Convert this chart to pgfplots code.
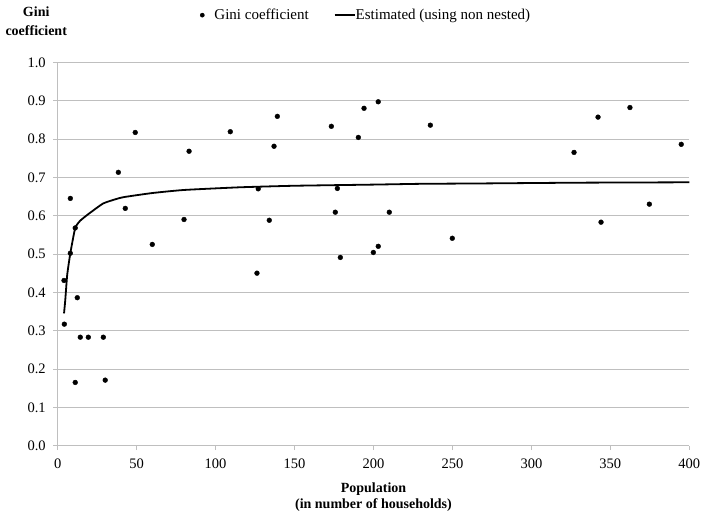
\documentclass[border=0pt]{standalone}
\usepackage{pgfplots}
\pgfplotsset{compat=1.18}
\usepackage{fontspec}
\setmainfont{Liberation Serif}
\definecolor{gridgray}{RGB}{191,191,191}
\begin{document}
\begin{tikzpicture}
\path[use as bounding box] (-57.7pt,-73.3pt) rectangle (643.3pt,445.7pt);
\begin{axis}[
  at={(0pt,0pt)}, anchor=south west,
  scale only axis, width=631.6pt, height=383.4pt,
  xmin=0, xmax=400, ymin=0, ymax=1,
  xtick={0,50,100,150,200,250,300,350,400},
  ytick={0,0.1,0.2,0.3,0.4,0.5,0.6,0.7,0.8,0.9,1.0},
  axis x line*=bottom, axis y line*=left,
  axis line style={color=gridgray, line width=0.9pt},
  ymajorgrids, grid style={color=gridgray, line width=0.9pt},
  tick align=outside, major tick length=4.5pt,
  tick style={color=gridgray, line width=0.9pt},
  /pgf/number format/assume math mode=true,
  yticklabel style={/pgf/number format/fixed, /pgf/number format/fixed zerofill, /pgf/number format/precision=1, xshift=-4pt},
  xticklabel style={yshift=-5pt},
  ticklabel style={font=\fontsize{14.5}{16}\selectfont, text=black},
  xlabel={Population\\(in number of households)},
  xlabel style={align=center, font=\bfseries\fontsize{14}{16.5}\selectfont,
    at={(axis description cs:0.5,0)}, anchor=center, yshift=-51.3pt},
  ylabel={Gini\\coefficient},
  ylabel style={rotate=-90, align=center, font=\bfseries\fontsize{14}{19}\selectfont,
    at={(axis description cs:-0.034,1.1064)}, anchor=center},
  legend columns=2,
  legend style={at={(axis description cs:0.2253,1.123)}, anchor=west,
    draw=none, fill=none, inner sep=0pt, outer sep=0pt,
    font=\fontsize{15}{17}\selectfont,
    nodes={inner xsep=0pt, inner ysep=1pt}},
  clip=false,
]
\addplot[only marks, mark=*, mark size=2.4pt, color=black,
  legend image code/.code={\fill[black] (0pt,0pt) circle (2.1pt); \path (12pt,0pt);}]
  coordinates {
(4.0,0.431) (4.2,0.317) (8.0,0.645) (8.0,0.502) (11.1,0.568) (11.1,0.165)
(12.4,0.386) (14.3,0.283) (19.4,0.283) (28.9,0.283) (30.1,0.171)
(38.4,0.713) (42.8,0.619) (49.1,0.817) (59.9,0.525) (80.0,0.590)
(83.2,0.768) (109.3,0.819) (126.2,0.450) (127.0,0.670) (134.0,0.588)
(137.0,0.781) (139.1,0.859) (173.3,0.833) (175.8,0.609) (177.1,0.671)
(179.0,0.491) (190.4,0.804) (194.0,0.880) (199.9,0.504) (203.0,0.897)
(203.0,0.520) (210.0,0.609) (236.0,0.836) (249.9,0.541) (327.0,0.765)
(342.2,0.857) (344.1,0.583) (362.4,0.882) (374.7,0.630) (394.9,0.786)
  };
\addlegendentry{Gini coefficient}
\addplot[black, line width=1.8pt, no marks, smooth, tension=0.3,
  legend image code/.code={\path (-25pt,0pt); \draw[black, line width=2pt] (0pt,0pt) -- (20pt,0pt);}]
  coordinates {
(4.0,0.345) (4.8,0.380) (6.0,0.445) (8.0,0.502) (11.1,0.568) (14.3,0.587)
(19.4,0.604) (28.9,0.632) (38.4,0.645) (42.8,0.649) (59.9,0.659) (80.0,0.667)
(115.5,0.674) (150,0.678) (200,0.681) (229.4,0.683) (267.4,0.684) (330,0.686) (400,0.687)
  };
\addlegendentry{Estimated (using non nested)}
\end{axis}
\end{tikzpicture}
\end{document}
